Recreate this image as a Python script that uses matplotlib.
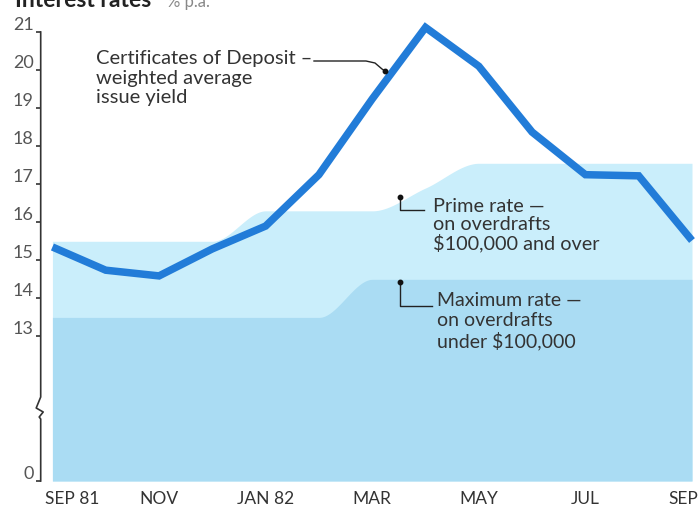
import numpy as np
import matplotlib
matplotlib.use("Agg")
import matplotlib.pyplot as plt
from matplotlib.lines import Line2D

# ---- data -------------------------------------------------------------
month_index = list(range(13))  # Sep 1981 .. Sep 1982
tick_months = [0, 2, 4, 6, 8, 10, 12]
tick_labels = ["SEP 81", "NOV", "JAN 82", "MAR", "MAY", "JUL", "SEP"]
y_ticks = [0, 13, 14, 15, 16, 17, 18, 19, 20, 21]

cd_yield = [15.35, 14.74, 14.59, 15.30, 15.90, 17.25, 19.24, 21.12,
            20.10, 18.37, 17.25, 17.22, 15.52]
prime_rate = [15.5, 15.5, 15.5, 15.5, 16.3, 16.3, 16.3, 16.9,
              17.55, 17.55, 17.55, 17.55, 17.55]
max_rate = [13.5, 13.5, 13.5, 13.5, 13.5, 13.5, 14.5, 14.5,
            14.5, 14.5, 14.5, 14.5, 14.5]

# ---- styling ----------------------------------------------------------
FONT = ["Lato", "DejaVu Sans"]
plt.rcParams["font.family"] = FONT
LINE_BLUE = "#227cd8"
PRIME_FILL = "#caeefb"
MAX_FILL = "#aadcf3"
TEXT = "#333333"

W, H = 700, 506
fig = plt.figure(figsize=(W / 100, H / 100), dpi=100, facecolor="white")

ax_left, ax_bottom, ax_top = 40.7, 482, 33
ax = fig.add_axes([ax_left / W, 1 - ax_bottom / H, 1 - ax_left / W,
                   (ax_bottom - ax_top) / H])

# broken value axis: 0..13 squeezed into a short stretch below 13
K = 3.8 / 13.0


def fwd(v):
    v = np.asarray(v, dtype=float)
    return np.where(v >= 13, v, 13 - (13 - v) * K)


def inv(u):
    u = np.asarray(u, dtype=float)
    return np.where(u >= 13, u, 13 - (13 - u) / K)


ax.set_yscale("function", functions=(fwd, inv))
ax.set_ylim(0, 21)
ax.set_xlim(-0.22, 12.15)


def pchip(x, y, xs):
    """Monotone cubic through the monthly points (smooth steps)."""
    x = np.asarray(x, float)
    y = np.asarray(y, float)
    h = np.diff(x)
    delta = np.diff(y) / h
    d = np.zeros_like(y)
    for k in range(1, len(y) - 1):
        if delta[k - 1] * delta[k] > 0:
            w1 = 2 * h[k] + h[k - 1]
            w2 = h[k] + 2 * h[k - 1]
            d[k] = (w1 + w2) / (w1 / delta[k - 1] + w2 / delta[k])
    idx = np.clip(np.searchsorted(x, xs) - 1, 0, len(x) - 2)
    t = (xs - x[idx]) / h[idx]
    h00 = 2 * t**3 - 3 * t**2 + 1
    h10 = t**3 - 2 * t**2 + t
    h01 = -2 * t**3 + 3 * t**2
    h11 = t**3 - t**2
    return (h00 * y[idx] + h10 * h[idx] * d[idx] + h01 * y[idx + 1]
            + h11 * h[idx] * d[idx + 1])


xs = np.linspace(month_index[0], month_index[-1], 800)
ax.fill_between(xs, 0, pchip(month_index, prime_rate, xs),
                color=PRIME_FILL, lw=0, zorder=1)
ax.fill_between(xs, 0, pchip(month_index, max_rate, xs),
                color=MAX_FILL, lw=0, zorder=2)
ax.plot(month_index, cd_yield, color=LINE_BLUE, lw=5.4,
        solid_joinstyle="miter", solid_capstyle="butt",
        clip_on=False, zorder=4)

# ---- axes decoration ---------------------------------------------------
for s in ax.spines.values():
    s.set_visible(False)

ax.set_yticks(y_ticks)
ax.set_yticklabels([str(v) for v in y_ticks])
ax.tick_params(axis="y", direction="out", length=3.5, width=1.2,
               color=TEXT, pad=1.5, labelsize=13, labelcolor="#555555")
for lbl in ax.get_yticklabels():
    lbl.set_verticalalignment("bottom")
ax.tick_params(axis="x", bottom=False, labelbottom=False)

# vertical axis line with a break zig-zag
ax_h = ax_bottom - ax_top
ax_w = W - ax_left


def axpt(dx_px, y_px):
    return dx_px / ax_w, (ax_bottom - y_px) / ax_h


pts = [axpt(0, 33), axpt(0, 398), axpt(-4.5, 409), axpt(2.5, 413),
       axpt(-1.5, 418), axpt(0, 420), axpt(0, 482)]
ax.add_line(Line2D([p[0] for p in pts], [p[1] for p in pts],
                   transform=ax.transAxes, color=TEXT, lw=1.2,
                   clip_on=False, zorder=5))

# month labels
for i, (m, lab) in enumerate(zip(tick_months, tick_labels)):
    ha, xm = "center", m
    if i == 0:
        ha, xm = "left", m - 0.14
    elif i == len(tick_months) - 1:
        ha, xm = "center", m - 0.17
    ax.text(xm, -9 / ax_h, lab, transform=ax.get_xaxis_transform(),
            ha=ha, va="top", fontsize=12.5, color=TEXT, clip_on=False)


# ---- annotations ------------------------------------------------------
def fp(x, y):
    return x / W, 1 - y / H


def leader(xy_list):
    xx, yy = zip(*[fp(x, y) for x, y in xy_list])
    fig.add_artist(Line2D(xx, yy, transform=fig.transFigure, color="#222222",
                          lw=1.0, zorder=6))


def dot(x, y):
    fig.add_artist(Line2D([fp(x, y)[0]], [fp(x, y)[1]], marker="o",
                          ms=3.2, color="#111111", transform=fig.transFigure,
                          zorder=7))


fig.text(*fp(96, 50), "Certificates of Deposit \u2013\nweighted average\nissue yield",
         ha="left", va="top", fontsize=14.5, color=TEXT, linespacing=1.18)
leader([(314, 62), (366, 62), (375, 64), (382, 70), (385, 72)])
dot(385, 72)

fig.text(*fp(433, 198), "Prime rate \u2014\non overdrafts\n$100,000 and over",
         ha="left", va="top", fontsize=14.3, color=TEXT, linespacing=1.06)
leader([(400, 198), (400, 211), (424, 211)])
dot(400, 198)

fig.text(*fp(437, 292), "Maximum rate \u2014\non overdrafts\nunder $100,000",
         ha="left", va="top", fontsize=14, color=TEXT, linespacing=1.2)
leader([(400, 283), (400, 307), (432, 307)])
dot(400, 283)

# heading (sits at the very top edge)
fig.text(*fp(15, 7), "Interest rates", ha="left", va="baseline",
         fontsize=16.5, fontweight="bold", color="#222222")
fig.text(*fp(167, 7), "% p.a.", ha="left", va="baseline",
         fontsize=12, color="#888888")

fig.savefig("out.png", dpi=100, facecolor="white")
